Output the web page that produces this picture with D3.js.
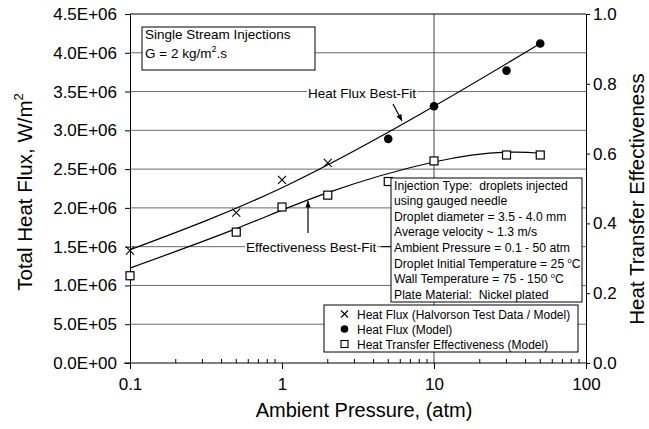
<!DOCTYPE html>
<html>
<head>
<meta charset="utf-8">
<script src="https://cdn.jsdelivr.net/npm/d3@7"></script>
<style>
  body { margin: 0; background: #fff; }
  svg { font-family: "Liberation Sans", Arial, sans-serif; }
  svg text { white-space: pre; }
  .tick text { font-size: 17px; fill: #000; }
</style>
</head>
<body>
<div id="chart"></div>
<script>
// data
const pressureHalvorson = [0.1, 0.5, 1, 2];
const heatFluxHalvorson = [1.45e6, 1.94e6, 2.36e6, 2.58e6];
const pressureModel = [5, 10, 30, 50];
const heatFluxModel = [2.89e6, 3.31e6, 3.77e6, 4.12e6];
const pressureEff = [0.1, 0.5, 1, 2, 5, 10, 30, 50];
const effectiveness = [0.25, 0.375, 0.447, 0.481, 0.52, 0.579, 0.596, 0.596];
// best-fit curves
const hfFitPressure = [0.1, 1, 10, 50];
const heatFluxFit = [1.46e6, 2.26e6, 3.31e6, 4.12e6];
const effFitPressure = [0.1, 0.5, 2, 10, 30, 50];
const effFit = [0.272, 0.385, 0.488, 0.576, 0.604, 0.601];

const xTicks = [0.1, 1, 10, 100];
const leftTicks = [0, 0.5e6, 1e6, 1.5e6, 2e6, 2.5e6, 3e6, 3.5e6, 4e6, 4.5e6];
const rightTicks = [0, 0.2, 0.4, 0.6, 0.8, 1.0];
const legendItems = ["Heat Flux (Halvorson Test Data / Model)", "Heat Flux (Model)", "Heat Transfer Effectiveness (Model)"];
const noteLines = [
  ["Injection Type:  droplets injected"],
  ["using gauged needle"],
  ["Droplet diameter = 3.5 - 4.0 mm"],
  ["Average velocity ~ 1.3 m/s"],
  ["Ambient Pressure = 0.1 - 50 atm"],
  ["Droplet Initial Temperature = 25 ", "o", "C"],
  ["Wall Temperature = 75 - 150 ", "o", "C"],
  ["Plate Material:  Nickel plated"]
];

const w = 649, h = 429;
const pad_left = 130, pad_right = 586, pad_top = 14, pad_bottom = 363;

const svg = d3.select('#chart').append('svg')
  .attr('width', w).attr('height', h);

const x = d3.scaleLog().domain([0.1, 100]).range([pad_left, pad_right]);
const yL = d3.scaleLinear().domain([0, 4.5e6]).range([pad_bottom, pad_top]);
const yR = d3.scaleLinear().domain([0, 1]).range([pad_bottom, pad_top]);

// grid
svg.append('g').selectAll('line')
  .data(leftTicks.slice(1, -1))
  .enter().append('line')
  .attr('x1', pad_left).attr('x2', pad_right)
  .attr('y1', d => yL(d)).attr('y2', d => yL(d))
  .attr('stroke', '#6a6a6a').attr('stroke-width', 1);
svg.append('line')
  .attr('x1', x(10)).attr('x2', x(10)).attr('y1', pad_top).attr('y2', pad_bottom)
  .attr('stroke', '#444').attr('stroke-width', 1);

// frame
svg.append('line').attr('x1', pad_left).attr('x2', pad_right).attr('y1', pad_top).attr('y2', pad_top).attr('stroke', '#000');

// axes
const fmtE = d => d === 0 ? '0.0E+00' : d3.format('.1e')(d).replace('e+', 'E+0');
svg.append('g')
  .attr('transform', 'translate(' + pad_left + ',0)')
  .call(d3.axisLeft(yL).tickValues(leftTicks).tickFormat(fmtE).tickSize(5).tickPadding(8));

svg.append('g')
  .attr('transform', 'translate(' + pad_right + ',0)')
  .call(d3.axisRight(yR).tickValues(rightTicks).tickFormat(d3.format('.1f')).tickSize(4).tickPadding(3));

const xAxis = svg.append('g')
  .attr('transform', 'translate(0,' + pad_bottom + ')')
  .call(d3.axisBottom(x).tickValues(xTicks).tickFormat(d => d).tickSize(6).tickPadding(9));
xAxis.select('.domain').attr('d', 'M' + (pad_left - 6) + ',0H' + pad_right);

// minor ticks on x
const minor = [];
[0.1, 1, 10].forEach(b => { for (let k = 2; k <= 9; k++) minor.push(b * k); });
svg.append('g').selectAll('line')
  .data(minor).enter().append('line')
  .attr('x1', d => x(d)).attr('x2', d => x(d))
  .attr('y1', pad_bottom).attr('y2', pad_bottom - 4)
  .attr('stroke', '#000');

// fits
const lineHF = d3.line().x((d, i) => x(hfFitPressure[i])).y(d => yL(d)).curve(d3.curveNatural);
const lineEff = d3.line().x((d, i) => x(effFitPressure[i])).y(d => yR(d)).curve(d3.curveNatural);
svg.append('path').attr('d', lineHF(heatFluxFit)).attr('fill', 'none').attr('stroke', '#000').attr('stroke-width', 1.2);
svg.append('path').attr('d', lineEff(effFit)).attr('fill', 'none').attr('stroke', '#000').attr('stroke-width', 1.2);

// markers
function cross(g, cx, cy) {
  g.append('path').attr('d', 'M' + (cx - 4) + ',' + (cy - 4) + 'L' + (cx + 4) + ',' + (cy + 4) + 'M' + (cx - 4) + ',' + (cy + 4) + 'L' + (cx + 4) + ',' + (cy - 4))
    .attr('stroke', '#000').attr('stroke-width', 1.1);
}
function square(g, cx, cy) {
  g.append('rect').attr('x', cx - 4).attr('y', cy - 4).attr('width', 8).attr('height', 8)
    .attr('fill', '#fff').attr('stroke', '#000').attr('stroke-width', 1.2);
}
function dot(g, cx, cy) {
  g.append('circle').attr('cx', cx).attr('cy', cy).attr('r', 4.3).attr('fill', '#000');
}
const marks = svg.append('g');
pressureHalvorson.forEach((p, i) => cross(marks, x(p), yL(heatFluxHalvorson[i])));
pressureModel.forEach((p, i) => dot(marks, x(p), yL(heatFluxModel[i])));
pressureEff.forEach((p, i) => square(marks, x(p), yR(effectiveness[i])));

// top-left box
const box1 = svg.append('g');
box1.append('rect').attr('x', 142).attr('y', 27).attr('width', 173).attr('height', 43)
  .attr('fill', '#fff').attr('stroke', '#000');
box1.append('text').attr('x', 145).attr('y', 39).attr('font-size', 13.5).text('Single Stream Injections');
const gt = box1.append('text').attr('x', 145).attr('y', 58).attr('font-size', 13.5);
gt.append('tspan').text('G = 2 kg/m');
gt.append('tspan').attr('dy', -6).attr('font-size', 9).text('2');
gt.append('tspan').attr('dy', 6).text('.s');

// labels with arrows
function label(txt, tx, ty, x1, y1, x2, y2) {
  const t = svg.append('text').attr('x', tx).attr('y', ty).attr('font-size', 13.5).text(txt);
  const bb = t.node().getBBox();
  svg.insert('rect', () => t.node())
    .attr('x', bb.x - 1).attr('y', bb.y).attr('width', bb.width + 2).attr('height', bb.height)
    .attr('fill', '#fff');
  const ang = Math.atan2(y2 - y1, x2 - x1);
  svg.append('line').attr('x1', x1).attr('y1', y1).attr('x2', x2).attr('y2', y2).attr('stroke', '#000').attr('stroke-width', 1.2);
  const a = 7, s = 0.4;
  svg.append('path')
    .attr('d', 'M' + x2 + ',' + y2 +
      'L' + (x2 - a * Math.cos(ang - s)) + ',' + (y2 - a * Math.sin(ang - s)) +
      'L' + (x2 - a * Math.cos(ang + s)) + ',' + (y2 - a * Math.sin(ang + s)) + 'Z')
    .attr('fill', '#000');
}
label('Heat Flux Best-Fit', 308, 98, 393, 104, 402, 121);
label('Effectiveness Best-Fit', 246, 252, 308, 233, 308, 201);
svg.append('line').attr('x1', 381).attr('x2', 391).attr('y1', yL(1.5e6)).attr('y2', yL(1.5e6)).attr('stroke', '#000');

// notes box
const nb = svg.append('g');
nb.append('rect').attr('x', 391).attr('y', 178).attr('width', 191).attr('height', 124)
  .attr('fill', '#fff').attr('stroke', '#000');
noteLines.forEach((parts, i) => {
  const t = nb.append('text').attr('x', 394).attr('y', 189.5 + i * 15.6).attr('font-size', 12.2);
  if (parts.length === 1) t.text(parts[0]);
  else {
    t.append('tspan').text(parts[0]);
    t.append('tspan').attr('dy', -5).attr('font-size', 7.5).text(parts[1]);
    t.append('tspan').attr('dy', 5).text(parts[2]);
  }
});

// legend
const lg = svg.append('g');
lg.append('rect').attr('x', 324).attr('y', 305).attr('width', 254).attr('height', 47)
  .attr('fill', '#fff').attr('stroke', '#000');
legendItems.forEach((txt, i) => {
  const cy = 314 + i * 15;
  if (i === 2) {
    lg.append('rect').attr('x', 341).attr('y', cy - 3.5).attr('width', 7).attr('height', 7)
      .attr('fill', '#fff').attr('stroke', '#000').attr('stroke-width', 1.1);
  } else if (i === 1) {
    lg.append('circle').attr('cx', 344.5).attr('cy', cy).attr('r', 3.8).attr('fill', '#000');
  } else {
    lg.append('path').attr('d', 'M341,' + (cy - 3.5) + 'L348,' + (cy + 3.5) + 'M341,' + (cy + 3.5) + 'L348,' + (cy - 3.5))
      .attr('stroke', '#000').attr('stroke-width', 1.1);
  }
  lg.append('text').attr('x', 357).attr('y', cy + 4.5).attr('font-size', 12).text(txt);
});

// axis titles
const lt = svg.append('text')
  .attr('transform', 'translate(32,192) rotate(-90)')
  .attr('text-anchor', 'middle').attr('font-size', 20.5);
lt.append('tspan').text('Total Heat Flux, W/m');
lt.append('tspan').attr('dy', -9).attr('font-size', 13).text('2');

svg.append('text')
  .attr('transform', 'translate(644,199) rotate(-90)')
  .attr('text-anchor', 'middle').attr('font-size', 20.5)
  .text('Heat Transfer Effectiveness');

svg.append('text').attr('x', 364).attr('y', 417).attr('text-anchor', 'middle')
  .attr('font-size', 20).text('Ambient Pressure, (atm)');
</script>
</body>
</html>
